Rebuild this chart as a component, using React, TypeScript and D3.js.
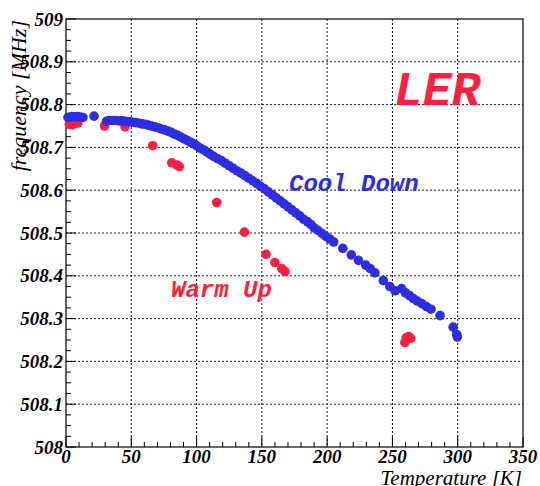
import React from "react";
import * as d3 from "d3";

const coolT = [1.5, 3, 5, 7, 9, 11, 13, 21.5, 31, 33, 35.5, 38, 40.5, 43, 45.5, 48, 50.5, 53, 55.5, 58, 60.5, 63, 65.5, 68, 70.5, 73, 75.5, 78, 80.5, 83, 85.5, 88, 90.5, 93, 95.5, 98, 100.5, 103, 105.5, 108, 110.5, 113, 116, 119, 122, 125, 128, 131, 134, 137, 140, 143, 146, 149, 152, 155, 158, 161, 164, 167, 170, 173, 176, 179, 182, 185, 187.5, 190, 193, 196, 199, 202, 205, 212, 218.5, 224, 229.5, 233, 236.5, 243, 248, 252, 257, 260, 263, 266, 269, 272.5, 276, 279.5, 286.5, 296.5, 299.2, 299.7];
const coolF = [508.770, 508.771, 508.772, 508.771, 508.772, 508.771, 508.770, 508.773, 508.761, 508.763, 508.763, 508.763, 508.762, 508.762, 508.761, 508.760, 508.759, 508.758, 508.757, 508.755, 508.754, 508.752, 508.750, 508.748, 508.746, 508.743, 508.741, 508.738, 508.735, 508.731, 508.728, 508.724, 508.720, 508.716, 508.712, 508.708, 508.703, 508.698, 508.694, 508.689, 508.684, 508.679, 508.674, 508.669, 508.663, 508.657, 508.651, 508.645, 508.640, 508.634, 508.628, 508.622, 508.616, 508.609, 508.603, 508.596, 508.589, 508.582, 508.575, 508.568, 508.561, 508.554, 508.547, 508.540, 508.532, 508.526, 508.520, 508.512, 508.506, 508.499, 508.492, 508.486, 508.479, 508.464, 508.449, 508.436, 508.425, 508.417, 508.407, 508.389, 508.375, 508.365, 508.370, 508.360, 508.354, 508.347, 508.341, 508.335, 508.328, 508.322, 508.307, 508.280, 508.263, 508.257];

const warmT = [2.5, 5, 7, 9, 29.5, 45.2, 66.4, 81, 84.8, 86.8, 115.4, 136.6, 153.2, 160, 165.2, 167.7, 259.5, 260.5, 262.5, 264];
const warmF = [508.754, 508.753, 508.756, 508.757, 508.750, 508.748, 508.704, 508.664, 508.659, 508.655, 508.571, 508.502, 508.450, 508.431, 508.417, 508.410, 508.244, 508.255, 508.258, 508.254];

const xTicks = [0, 50, 100, 150, 200, 250, 300, 350];
const yTicks = [508, 508.1, 508.2, 508.3, 508.4, 508.5, 508.6, 508.7, 508.8, 508.9, 509];

const W = 540, H = 486;
const L = 66, R = 523, T = 19, B = 447;
const BLUE = "#2d2de2";
const RED = "#ff1f40";
const SERIF = "Liberation Serif";
const MONO = "Liberation Mono";

export default function App() {
  const x = d3.scaleLinear().domain([0, 350]).range([L, R]);
  const y = d3.scaleLinear().domain([508, 509]).range([B, T]);
  const xMinor = d3.range(0, 351, 10);
  const yMinor = d3.range(0, 41).map((i) => 508 + i * 0.025);
  const cool = coolT.map((t, i) => [t, coolF[i]]);
  const warm = warmT.map((t, i) => [t, warmF[i]]);
  return (
    <svg width={W} height={H} style={{ position: "absolute", left: 0, top: 0, background: "#fff" }}>
      <rect x={0} y={0} width={W} height={H} fill="#fff" />
      {xTicks.slice(1, -1).map((t) => (
        <line key={"gx" + t} x1={x(t)} x2={x(t)} y1={T} y2={B} stroke="#111" strokeWidth={1} strokeDasharray="2,2" />
      ))}
      {yTicks.slice(1, -1).map((t) => (
        <line key={"gy" + t} x1={L} x2={R} y1={y(t)} y2={y(t)} stroke="#222" strokeWidth={1} strokeDasharray="2,2" />
      ))}
      {xMinor.map((t) => (
        <line key={"mx" + t} x1={x(t)} x2={x(t)} y1={B} y2={B - (t % 50 === 0 ? 10 : 5)} stroke="#000" strokeWidth={1} />
      ))}
      {yMinor.map((t, i) => (
        <line key={"my" + i} x1={L} x2={L + (i % 4 === 0 ? 10 : 5)} y1={y(t)} y2={y(t)} stroke="#000" strokeWidth={1} />
      ))}
      <rect x={L} y={T} width={R - L} height={B - T} fill="none" stroke="#000" strokeWidth={1.2} />
      {warm.map((d, i) => (
        <circle key={"w" + i} cx={x(d[0])} cy={y(d[1])} r={4.8} fill={RED} />
      ))}
      {cool.map((d, i) => (
        <circle key={"c" + i} cx={x(d[0])} cy={y(d[1])} r={4.8} fill={BLUE} />
      ))}
      {yTicks.map((t) => (
        <text key={"ly" + t} x={L - 3} y={y(t)} dy="0.35em" textAnchor="end"
          fontFamily={SERIF} fontStyle="italic" fontWeight={700} fontSize={19}>
          {String(+t.toFixed(1))}
        </text>
      ))}
      {xTicks.map((t) => (
        <text key={"lx" + t} x={x(t)} y={463} textAnchor="middle"
          fontFamily={SERIF} fontStyle="italic" fontWeight={700} fontSize={19}>
          {t}
        </text>
      ))}
      <text x={522} y={485} textAnchor="end" fontFamily={SERIF} fontStyle="italic" fontSize={21}>
        Temperature [K]
      </text>
      <text transform="translate(26,20) rotate(-90)" textAnchor="end" fontFamily={SERIF} fontStyle="italic" fontSize={22}>
        frequency [MHz]
      </text>
      <text x={394} y={105} fill={RED} fontFamily={MONO} fontStyle="italic" fontWeight={700} fontSize={48}>
        LER
      </text>
      <text x={289} y={191} fill={BLUE} fontFamily={MONO} fontStyle="italic" fontWeight={700} fontSize={24}>
        Cool Down
      </text>
      <text x={171} y={297} fill={RED} fontFamily={MONO} fontStyle="italic" fontWeight={700} fontSize={24}>
        Warm Up
      </text>
    </svg>
  );
}
